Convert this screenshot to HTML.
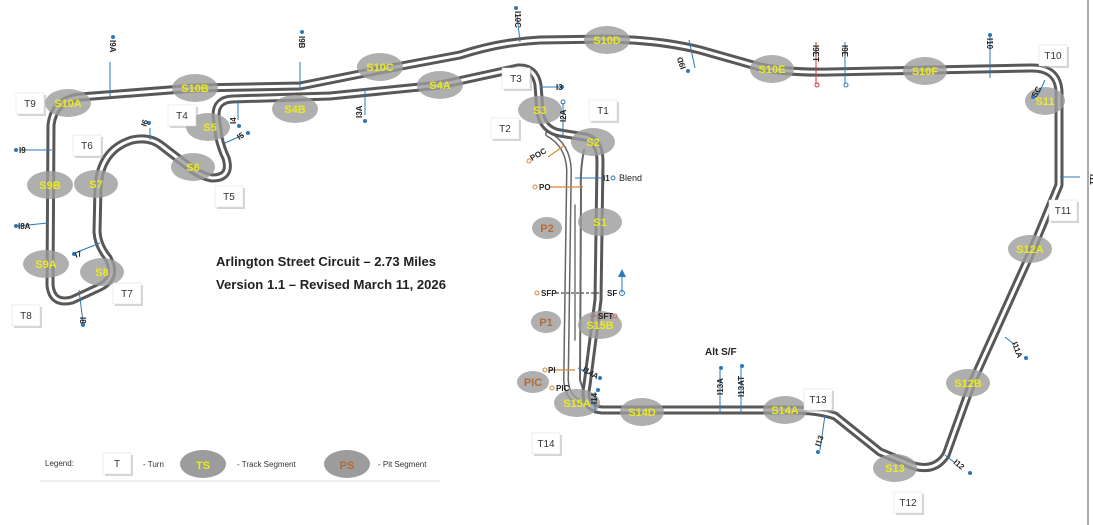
<!DOCTYPE html>
<html><head><meta charset="utf-8"><style>
html,body{margin:0;padding:0;background:#fff}
svg{display:block}
.tb{fill:#fff;stroke:#ddd;stroke-width:0.5}
.ts{fill:#aaa;opacity:.5}
.tl{font:10px "Liberation Sans",sans-serif;fill:#333;text-anchor:middle}
.sl{font:bold 11px "Liberation Sans",sans-serif;fill:#eaea20;text-anchor:middle}
.pl{font:bold 11px "Liberation Sans",sans-serif;fill:#b56a3a;text-anchor:middle}
.il{font:bold 8px "Liberation Sans",sans-serif;fill:#222}
.bl{stroke:#2a78b8;stroke-width:1}
</style></head><body>
<svg width="1093" height="525" viewBox="0 0 1093 525" xmlns="http://www.w3.org/2000/svg">
<defs>
<path id="trk" d="M598,300 L600,162 Q600,140 585,137 L560,133 Q543,130 540,112 L538,85 Q535,67 518,68 L440,85 L330,96 L232,99 Q216,100 216,115 L219,138 Q222,150 226,158 Q232,178 212,178 Q200,176 188,166 L162,146 Q150,136 132,140 Q100,150 98,188 L97,232 Q98,246 108,258 Q118,278 100,287 L72,300 Q52,305 50,285 L51,125 Q54,100 80,97 L195,88 L300,86 L380,70 L460,55 Q500,42 540,40 L608,39 Q660,40 700,50 L760,67 Q790,73 830,72 L1030,68 Q1058,67 1059,92 L1059,185 L1030,255 L972,383 L946,455 Q935,472 914,466 L880,452 L835,416 Q818,410 790,410 L602,410 Q582,408 587,385 Z"/>
<path id="pit" d="M548,134 Q568,145 569,170 L566,380 Q567,398 580,402"/>
<g id="bx"><rect x="-12" y="-8" width="28" height="21" class="ts"/><rect x="-14" y="-10" width="28" height="21" class="tb"/></g>
</defs>
<rect width="1093" height="525" fill="#fff"/>
<line x1="1088" y1="0" x2="1088" y2="525" stroke="#555" stroke-width="1"/>

<g fill="none" stroke-linejoin="round" stroke-linecap="round">
<use href="#pit" stroke="#666" stroke-width="6"/>
<use href="#pit" stroke="#fff" stroke-width="3"/>
<path d="M584,150 Q580,170 581,190 L580,380 L585,395" stroke="#666" stroke-width="2"/>
<line x1="575" y1="205" x2="575" y2="340" stroke="#777" stroke-width="1.5"/>
<use href="#trk" stroke="#585858" stroke-width="9"/>
<use href="#trk" stroke="#fff" stroke-width="3"/>
</g>

<g fill="#9c9c9c" opacity="0.8">
<ellipse cx="68" cy="103" rx="23" ry="14"/>
<ellipse cx="195" cy="88" rx="23" ry="14"/>
<ellipse cx="380" cy="67" rx="23" ry="14"/>
<ellipse cx="440" cy="85" rx="23" ry="14"/>
<ellipse cx="295" cy="109" rx="23" ry="14"/>
<ellipse cx="208" cy="127" rx="22" ry="14"/>
<ellipse cx="193" cy="167" rx="22" ry="14"/>
<ellipse cx="50" cy="185" rx="23" ry="14"/>
<ellipse cx="96" cy="184" rx="22" ry="14"/>
<ellipse cx="46" cy="264" rx="23" ry="14"/>
<ellipse cx="102" cy="272" rx="22" ry="14"/>
<ellipse cx="540" cy="110" rx="22" ry="14"/>
<ellipse cx="593" cy="142" rx="22" ry="14"/>
<ellipse cx="600" cy="222" rx="22" ry="14"/>
<ellipse cx="547" cy="228" rx="15" ry="11"/>
<ellipse cx="546" cy="322" rx="15" ry="11"/>
<ellipse cx="600" cy="325" rx="22" ry="14"/>
<ellipse cx="533" cy="382" rx="16" ry="11"/>
<ellipse cx="577" cy="403" rx="23" ry="14"/>
<ellipse cx="642" cy="412" rx="22" ry="14"/>
<ellipse cx="785" cy="410" rx="22" ry="14"/>
<ellipse cx="895" cy="468" rx="22" ry="14"/>
<ellipse cx="968" cy="383" rx="22" ry="14"/>
<ellipse cx="1030" cy="249" rx="22" ry="14"/>
<ellipse cx="1045" cy="101" rx="20" ry="14"/>
<ellipse cx="925" cy="71" rx="22" ry="14"/>
<ellipse cx="772" cy="69" rx="22" ry="14"/>
<ellipse cx="607" cy="40" rx="23" ry="14"/>
</g>

<g class="sl">
<text x="68" y="107">S10A</text><text x="195" y="92">S10B</text><text x="380" y="71">S10C</text>
<text x="440" y="89">S4A</text><text x="295" y="113">S4B</text><text x="210" y="131">S5</text>
<text x="193" y="171">S6</text><text x="50" y="189">S9B</text><text x="96" y="188">S7</text>
<text x="46" y="268">S9A</text><text x="102" y="276">S8</text><text x="540" y="114">S3</text>
<text x="593" y="146">S2</text><text x="600" y="226">S1</text><text x="600" y="329">S15B</text>
<text x="577" y="407">S15A</text><text x="642" y="416">S14D</text><text x="785" y="414">S14A</text>
<text x="895" y="472">S13</text><text x="968" y="387">S12B</text><text x="1030" y="253">S12A</text>
<text x="1045" y="105">S11</text><text x="925" y="75">S10F</text><text x="772" y="73">S10E</text>
<text x="607" y="44">S10D</text>
</g>
<g class="pl"><text x="547" y="232">P2</text><text x="546" y="326">P1</text><text x="533" y="386">PIC</text></g>

<g>
<use href="#bx" x="30" y="103"/><text class="tl" x="30" y="107">T9</text>
<use href="#bx" x="87" y="145"/><text class="tl" x="87" y="149">T6</text>
<use href="#bx" x="182" y="115"/><text class="tl" x="182" y="119">T4</text>
<use href="#bx" x="229" y="196"/><text class="tl" x="229" y="200">T5</text>
<use href="#bx" x="26" y="315"/><text class="tl" x="26" y="319">T8</text>
<use href="#bx" x="127" y="293"/><text class="tl" x="127" y="297">T7</text>
<use href="#bx" x="516" y="78"/><text class="tl" x="516" y="82">T3</text>
<use href="#bx" x="505" y="128"/><text class="tl" x="505" y="132">T2</text>
<use href="#bx" x="603" y="110"/><text class="tl" x="603" y="114">T1</text>
<use href="#bx" x="546" y="443"/><text class="tl" x="546" y="447">T14</text>
<use href="#bx" x="818" y="399"/><text class="tl" x="818" y="403">T13</text>
<use href="#bx" x="908" y="502"/><text class="tl" x="908" y="506">T12</text>
<use href="#bx" x="1053" y="55"/><text class="tl" x="1053" y="59">T10</text>
<use href="#bx" x="1063" y="210"/><text class="tl" x="1063" y="214">T11</text>
</g>

<g class="bl">
<line x1="110" y1="62" x2="110" y2="96"/><line x1="300" y1="62" x2="300" y2="90"/>
<line x1="365" y1="88" x2="365" y2="115"/><line x1="238" y1="100" x2="238" y2="120"/>
<line x1="225" y1="143" x2="243" y2="135"/><line x1="150" y1="128" x2="150" y2="140"/>
<line x1="20" y1="150" x2="52" y2="150"/><line x1="18" y1="226" x2="48" y2="223"/>
<line x1="75" y1="253" x2="100" y2="243"/><line x1="79" y1="290" x2="83" y2="322"/>
<line x1="517" y1="15" x2="520" y2="42"/><line x1="540" y1="87" x2="560" y2="87"/>
<line x1="563" y1="103" x2="563" y2="135"/><line x1="689" y1="40" x2="695" y2="68"/>
<line x1="845" y1="42" x2="845" y2="83"/><line x1="990" y1="35" x2="990" y2="78"/>
<line x1="1038" y1="95" x2="1045" y2="80"/><line x1="1060" y1="177" x2="1080" y2="177"/>
<line x1="1005" y1="337" x2="1015" y2="345"/><line x1="945" y1="455" x2="955" y2="463"/>
<line x1="825" y1="415" x2="820" y2="450"/><line x1="720" y1="370" x2="720" y2="414"/>
<line x1="741" y1="368" x2="741" y2="414"/><line x1="575" y1="178" x2="605" y2="178"/>
<line x1="595" y1="392" x2="595" y2="414"/><line x1="578" y1="368" x2="592" y2="375"/>
<line x1="622" y1="275" x2="622" y2="293"/>
</g>
<line x1="816" y1="42" x2="816" y2="84" stroke="#d33" stroke-width="1"/>
<line x1="590" y1="316" x2="612" y2="316" stroke="#c66" stroke-width="1"/>
<g stroke="#d9883a" stroke-width="1.2">
<line x1="548" y1="157" x2="565" y2="145"/><line x1="550" y1="187" x2="583" y2="187"/>
<line x1="550" y1="370" x2="575" y2="370"/>
</g>
<line x1="556" y1="293" x2="600" y2="293" stroke="#222" stroke-width="1" stroke-dasharray="3,2"/>
<polygon points="622,269 618,277 626,277" fill="#2a78b8"/>

<g fill="#2a78b8">
<circle cx="113" cy="37" r="2"/><circle cx="302" cy="32" r="2"/><circle cx="365" cy="121" r="2"/>
<circle cx="239" cy="126" r="2"/><circle cx="248" cy="133" r="2"/><circle cx="149" cy="123" r="2"/>
<circle cx="16" cy="150" r="2"/><circle cx="16" cy="226" r="2"/><circle cx="74" cy="254" r="2"/>
<circle cx="83" cy="325" r="2"/><circle cx="516" cy="8" r="2"/><circle cx="562" cy="87" r="2"/>
<circle cx="688" cy="71" r="2"/><circle cx="990" cy="35" r="2"/><circle cx="1033" cy="97" r="2"/>
<circle cx="1026" cy="358" r="2"/><circle cx="970" cy="473" r="2"/><circle cx="818" cy="452" r="2"/>
<circle cx="721" cy="368" r="2"/><circle cx="742" cy="366" r="2"/><circle cx="598" cy="390" r="2"/><circle cx="600" cy="378" r="2"/>
</g>
<g fill="none" stroke-width="1">
<circle cx="563" cy="102" r="2" stroke="#2a78b8"/><circle cx="817" cy="85" r="2" stroke="#d33"/>
<circle cx="846" cy="85" r="2" stroke="#2a78b8"/><circle cx="613" cy="178" r="2" stroke="#2a78b8"/>
<circle cx="622" cy="293" r="2.5" stroke="#2a78b8"/><circle cx="615" cy="316" r="2" stroke="#c66"/>
<circle cx="529" cy="161" r="2" stroke="#d9883a"/><circle cx="535" cy="187" r="2" stroke="#d9883a"/>
<circle cx="537" cy="293" r="2" stroke="#d9883a"/><circle cx="545" cy="370" r="2" stroke="#d9883a"/>
<circle cx="552" cy="388" r="2" stroke="#d9883a"/>
</g>

<g class="il">
<text transform="translate(110,40) rotate(90)">I9A</text>
<text transform="translate(299,36) rotate(90)">I9B</text>
<text transform="translate(362,118) rotate(-90)">I3A</text>
<text transform="translate(236,124) rotate(-90)">I4</text>
<text transform="translate(239,140) rotate(-30)">I5</text>
<text transform="translate(146,127) rotate(-70)">I6</text>
<text x="19" y="153">I9</text><text x="18" y="229">I8A</text>
<text transform="translate(76,258) rotate(-20)">I7</text>
<text transform="translate(80,317) rotate(90)">I8</text>
<text transform="translate(515,11) rotate(90)">I10C</text>
<text x="556" y="90">I3</text>
<text transform="translate(566,122) rotate(-90)">I2A</text>
<text transform="translate(686,68) rotate(-110)">I9D</text>
<text transform="translate(813,45) rotate(90)">I9ET</text>
<text transform="translate(842,45) rotate(90)">I9E</text>
<text transform="translate(987,38) rotate(90)">I10</text>
<text transform="translate(1036,98) rotate(-60)">SC</text>
<text transform="translate(1090,174) rotate(90)">I11</text>
<text transform="translate(1012,343) rotate(70)">I11A</text>
<text transform="translate(953,463) rotate(40)">I12</text>
<text transform="translate(820,447) rotate(-70)">I13</text>
<text transform="translate(723,395) rotate(-90)">I13A</text>
<text transform="translate(744,397) rotate(-90)">I13AT</text>
<text transform="translate(597,404) rotate(-90)">I14</text>
<text transform="translate(582,371) rotate(30)">I14A</text>
<text x="603" y="181">I1</text>
<text x="539" y="190">PO</text><text x="541" y="296">SFP</text>
<text x="607" y="296">SF</text><text x="598" y="319">SFT</text>
<text x="548" y="373">PI</text><text x="556" y="391">PIC</text>
<text transform="translate(532,161) rotate(-30)">POC</text>
</g>
<text x="619" y="181" font-family="Liberation Sans,sans-serif" font-size="9" fill="#222">Blend</text>
<text x="705" y="355" font-family="Liberation Sans,sans-serif" font-size="10" font-weight="bold" fill="#222">Alt S/F</text>

<text x="216" y="266" font-family="Liberation Sans,sans-serif" font-size="13" font-weight="bold" fill="#222" textLength="220" lengthAdjust="spacingAndGlyphs">Arlington Street Circuit – 2.73 Miles</text>
<text x="216" y="289" font-family="Liberation Sans,sans-serif" font-size="13" font-weight="bold" fill="#222" textLength="230" lengthAdjust="spacingAndGlyphs">Version 1.1 – Revised March 11, 2026</text>

<g font-family="Liberation Sans,sans-serif" font-size="8" fill="#333">
<text x="45" y="466">Legend:</text>
<rect x="105" y="455" width="28" height="21" class="ts"/><rect x="103" y="453" width="28" height="21" class="tb"/>
<text x="117" y="467" class="tl">T</text>
<text x="143" y="467">- Turn</text>
<ellipse cx="203" cy="464" rx="23" ry="14" fill="#9c9c9c"/>
<text x="203" y="469" class="sl" font-size="12">TS</text>
<text x="237" y="467">- Track Segment</text>
<ellipse cx="347" cy="464" rx="23" ry="14" fill="#9c9c9c"/>
<text x="347" y="469" class="pl" font-size="12">PS</text>
<text x="378" y="467">- Pit Segment</text>
<line x1="40" y1="481" x2="440" y2="481" stroke="#ddd" stroke-width="1"/>
</g>
</svg>
</body></html>
